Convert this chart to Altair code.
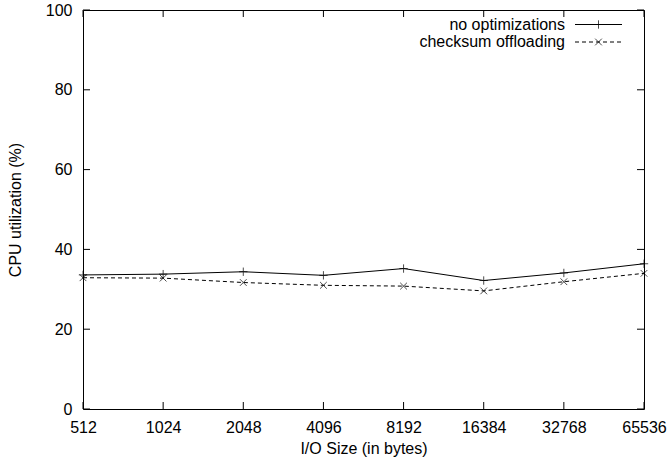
import altair as alt
import pandas as pd

sizes = ["512", "1024", "2048", "4096", "8192", "16384", "32768", "65536"]
no_opt = [33.6, 33.8, 34.4, 33.5, 35.2, 32.2, 34.1, 36.4]
cksum = [32.9, 32.8, 31.7, 31.0, 30.8, 29.6, 31.9, 34.0]
series_names = ["no optimizations", "checksum offloading"]
y_ticks = [0, 20, 40, 60, 80, 100]

FONT = "Liberation Sans"
FS = 16
W, H = 561, 399

rows = []
for s, v in zip(sizes, no_opt):
    rows.append({"size": s, "value": v, "series": series_names[0]})
for s, v in zip(sizes, cksum):
    rows.append({"size": s, "value": v, "series": series_names[1]})
df = pd.DataFrame(rows)

xscale = alt.Scale(type="point", domain=sizes, padding=0)
yscale = alt.Scale(domain=[0, 100], nice=False)

xenc = alt.X("size:O", scale=xscale, sort=sizes,
             axis=alt.Axis(title="I/O Size (in bytes)", labelAngle=0, tickSize=0,
                           domain=False, labelPadding=10, labelFont=FONT, titleFont=FONT,
                           labelFontSize=FS, titleFontSize=FS, titleFontWeight="normal",
                           labelColor="black", titleColor="black", titlePadding=5))
yenc = alt.Y("value:Q", scale=yscale,
             axis=alt.Axis(title="CPU utilization (%)", values=y_ticks, tickSize=0,
                           domain=False, grid=False, labelPadding=11, labelFont=FONT,
                           titleFont=FONT, labelFontSize=FS, titleFontSize=FS,
                           titleFontWeight="normal", labelColor="black", titleColor="black",
                           titlePadding=22))

xplain = alt.X("size:O", scale=xscale, sort=sizes)
yplain = alt.Y("value:Q", scale=yscale)

base = alt.Chart(df)

line1 = base.transform_filter(alt.datum.series == series_names[0]).mark_line(
    color="black", strokeWidth=1).encode(x=xenc, y=yenc)
line2 = base.transform_filter(alt.datum.series == series_names[1]).mark_line(
    color="black", strokeWidth=1, strokeDash=[4, 3]).encode(x=xplain, y=yplain)

plus_shape = "M-1,0L1,0M0,-1L0,1"
x_shape = "M-1,-1L1,1M-1,1L1,-1"
pts1 = base.transform_filter(alt.datum.series == series_names[0]).mark_point(
    shape=plus_shape, filled=False, color="black", size=70, strokeWidth=1
).encode(x=xplain, y=yplain)
pts2 = base.transform_filter(alt.datum.series == series_names[1]).mark_point(
    shape=x_shape, filled=False, color="black", size=45, strokeWidth=1
).encode(x=xplain, y=yplain)

# inward (mirrored) ticks
xt = pd.DataFrame({"size": sizes})
yt = pd.DataFrame({"value": y_ticks})
xtick_b = alt.Chart(xt).mark_rule(color="black").encode(
    x=xplain, y=alt.value(H), y2=alt.value(H - 7))
xtick_t = alt.Chart(xt).mark_rule(color="black").encode(
    x=xplain, y=alt.value(0), y2=alt.value(7))
ytick_l = alt.Chart(yt).mark_rule(color="black").encode(
    y=yplain, x=alt.value(0), x2=alt.value(7))
ytick_r = alt.Chart(yt).mark_rule(color="black").encode(
    y=yplain, x=alt.value(W), x2=alt.value(W - 7))

# legend (inside top-right)
ROW1, ROW2 = 14.5, 32
TX, LX1, LX2 = 482, 492, 539
one = pd.DataFrame({"a": [0]})
leg_t1 = alt.Chart(one).mark_text(
    align="right", baseline="middle", font=FONT, fontSize=FS, color="black",
    text=series_names[0]).encode(x=alt.value(TX), y=alt.value(ROW1))
leg_t2 = alt.Chart(one).mark_text(
    align="right", baseline="middle", font=FONT, fontSize=FS, color="black",
    text=series_names[1]).encode(x=alt.value(TX), y=alt.value(ROW2))
leg_l1 = alt.Chart(one).mark_rule(color="black").encode(
    x=alt.value(LX1), x2=alt.value(LX2), y=alt.value(ROW1))
leg_l2 = alt.Chart(one).mark_rule(color="black", strokeDash=[4, 3]).encode(
    x=alt.value(LX1), x2=alt.value(LX2), y=alt.value(ROW2))
leg_p1 = alt.Chart(one).mark_point(
    shape=plus_shape, filled=False, color="black", size=70, strokeWidth=1
).encode(x=alt.value((LX1 + LX2) / 2), y=alt.value(ROW1))
leg_p2 = alt.Chart(one).mark_point(
    shape=x_shape, filled=False, color="black", size=45, strokeWidth=1
).encode(x=alt.value((LX1 + LX2) / 2), y=alt.value(ROW2))

chart = alt.layer(
    line1, line2, pts1, pts2, xtick_b, xtick_t, ytick_l, ytick_r,
    leg_t1, leg_t2, leg_l1, leg_l2, leg_p1, leg_p2
).properties(
    width=W, height=H,
    autosize=alt.AutoSizeParams(type="none"),
    padding={"left": 83, "top": 10, "right": 23, "bottom": 54},
    background="white",
).configure_view(stroke="black", strokeWidth=1)

chart.save("out.html", embed_options={"renderer": "svg", "actions": False})
